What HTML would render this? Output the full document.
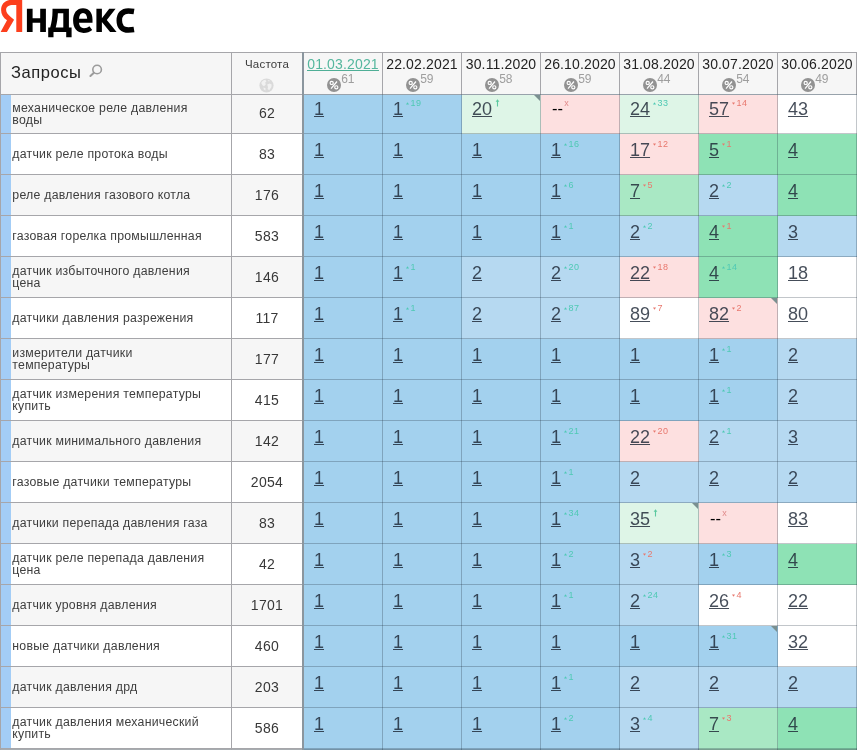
<!DOCTYPE html>
<html lang="ru"><head><meta charset="utf-8"><title>Яндекс</title>
<style>
*{margin:0;padding:0;box-sizing:border-box}
html,body{width:857px;height:750px;overflow:hidden;background:#fff}
#root{position:absolute;left:0;top:0;width:857px;height:750px;overflow:hidden;will-change:transform}
body{position:relative;font-family:"Liberation Sans",sans-serif;color:#333}
.a{position:absolute}
.hl{background:#a6a6aa;height:1px}
.vl{background:#a6a6aa;width:1px}
.hdr{background:#f6f6f6}
.q{left:1px;width:230px}
.q .s{position:absolute;left:0;top:0;bottom:0;width:10px;background:#a3cdf6}
.q .t{position:absolute;left:11.3px;right:0;top:50%;transform:translateY(-50%);margin-top:.3px;font-size:12.3px;letter-spacing:.25px;line-height:12px;color:#3e3e3e;white-space:nowrap}
.f{left:232px;width:70px;text-align:center;font-size:14px;letter-spacing:.3px;color:#383838}
.q .t.two{margin-top:-.5px}
.odd{background:#f6f6f6}
.even{background:#fff}
.d{width:79px}
.n{position:absolute;left:10px;top:0;font-size:18px;line-height:20px;color:rgba(28,38,52,.82);white-space:nowrap}
.n u{text-decoration:underline;text-decoration-thickness:1px;text-underline-offset:.5px}
.n b{font-weight:normal;color:#000;font-size:16.5px;margin-left:1px;position:relative;top:-.4px}
.sp{position:absolute;font-size:9px;line-height:9px;white-space:nowrap;letter-spacing:.4px}
.g{color:#4fc9b4}
.r{color:#e8786e}
.cr{position:absolute;right:1px;top:0;width:0;height:0;border-top:6px solid #7a9090;border-left:6px solid transparent}
.dt{position:absolute;left:0;right:0;top:3px;text-align:center;font-size:14px;line-height:16px;color:#222;white-space:nowrap;letter-spacing:.15px}
.dt.lk span{color:#55b79e;border-bottom:1px solid #4fae96;display:inline-block;height:15px;line-height:16px}
.bd{position:absolute;left:22.6px;top:24.6px;width:14px;height:14px;border-radius:50%;background:#929292}
.pc{position:absolute;left:37.2px;top:19.6px;font-size:12px;line-height:12px;color:#9e9e9e}
</style></head>
<body><div id="root">
<svg class="a" style="left:0;top:0" width="140" height="40" viewBox="0 0 140 40">
<path fill="#fc3f1d" d="M22.2 -0.3 L22.2 31.9 L16.3 31.9 L16.3 4.9 L13.2 4.9 C8.8 4.9 6.1 6.6 6.1 9.8 C6.1 12.4 7.6 14.3 10.2 16.4 L14.1 19.8 L6.9 31.9 L0.6 31.9 L7 20.2 C3.2 17.6 1.1 14.2 1.1 9.9 C1.1 3.6 5.6 -0.3 12.6 -0.3 Z"/>
<path fill="#000" d="M26.9 8.8 h5.7 v9.5 h7.6 v-9.5 h5.7 v23.3 h-5.7 v-9.3 h-7.6 v9.3 h-5.7 Z"/>
<path fill="#000" fill-rule="evenodd" d="M52.5 8.8 L68.9 8.8 L68.9 27.6 L71.6 27.6 L71.6 37.3 L66.2 37.3 L66.2 32.1 L53.5 32.1 L53.5 37.3 L48.2 37.3 L48.2 27.6 L50.2 27.6 C51.6 22.5 52.5 17 52.5 11 Z M57.9 13.3 L63.3 13.3 L63.3 27.6 L55.7 27.6 C56.9 23.5 57.7 18.5 57.9 13.3 Z"/>
<path fill="#000" fill-rule="evenodd" d="M92.5 22.8 L79 22.8 C79.2 26.3 81 28.2 84 28.2 C86.2 28.2 87.9 27.5 89.4 26.2 L92.2 30 C89.9 32 87 32.9 83.6 32.9 C77 32.9 73.1 28.4 73.1 20.6 C73.1 13 76.8 8.2 83 8.2 C89 8.2 92.5 12.6 92.5 19.4 Z M79 18.7 L87.2 18.7 C87 15.1 85.6 12.9 83 12.9 C80.6 12.9 79.3 15.1 79 18.7 Z"/>
<path fill="#000" d="M96.4 8.8 H101.9 V18.2 L109.2 8.8 H115.6 L106.8 20 L116.6 32.1 H110.1 L101.9 22 V32.1 H96.4 Z"/>
<path fill="none" stroke="#000" stroke-width="5.6" d="M134 11.4 C132.2 11.1 130.4 11 128.3 11 C122.5 11 119.3 14.4 119.3 20.5 C119.3 26.6 122.5 30 128.3 30 C130.4 30 132.2 29.9 134 29.6"/>
</svg>
<div class="a hl" style="left:0;top:52px;width:857px"></div>
<div class="a hdr" style="left:1px;top:53px;width:855px;height:41px"></div>
<div class="a" style="left:11px;top:61.5px;font-size:16.5px;letter-spacing:.55px;line-height:20px;color:#222">Запросы</div>
<svg class="a" style="left:88px;top:62px" width="16" height="16" viewBox="0 0 16 16"><circle cx="9.1" cy="7.5" r="4.3" fill="none" stroke="#9c9c9c" stroke-width="1.6"/><path d="M5.9 10.7 L2.4 14" stroke="#9c9c9c" stroke-width="2" stroke-linecap="round"/></svg>
<div class="a" style="left:232px;top:56.5px;width:70px;text-align:center;font-size:11.5px;letter-spacing:.2px;line-height:14px;color:#3c3c3c">Частота</div>
<svg class="a" style="left:259.4px;top:77.6px" width="15" height="15" viewBox="0 0 15 15"><circle cx="7.5" cy="7.5" r="7.1" fill="#dadada"/><path d="M2.2 5 C3 3 4.6 2 6.4 1.8 L7.4 3.4 L6.2 4.6 L6.8 6.4 L5 8.2 L3.4 7.2Z M8.2 6.6 L10.6 5.4 L12.6 6.4 L12.4 9 L10.2 12.2 L8.6 11 L9 9Z M8.6 2 L10.8 2.6 L10 3.8Z M4.4 9.6 L6.6 10.2 L6.4 12.6 L4.8 11.6Z" fill="#f1f1f1"/></svg>
<div class="a" style="left:304px;top:53px;width:78px;height:41px"><div class="dt lk"><span>01.03.2021</span></div><div class="bd"><svg width="14" height="14" viewBox="0 0 14 14"><circle cx="4.7" cy="4.9" r="1.6" fill="none" stroke="#fff" stroke-width="1.15"/><circle cx="9.3" cy="9.3" r="1.6" fill="none" stroke="#fff" stroke-width="1.15"/><path d="M10 3.5 L4 10.6" stroke="#fff" stroke-width="1.2"/></svg></div><div class="pc">61</div></div>
<div class="a" style="left:383px;top:53px;width:78px;height:41px"><div class="dt"><span>22.02.2021</span></div><div class="bd"><svg width="14" height="14" viewBox="0 0 14 14"><circle cx="4.7" cy="4.9" r="1.6" fill="none" stroke="#fff" stroke-width="1.15"/><circle cx="9.3" cy="9.3" r="1.6" fill="none" stroke="#fff" stroke-width="1.15"/><path d="M10 3.5 L4 10.6" stroke="#fff" stroke-width="1.2"/></svg></div><div class="pc">59</div></div>
<div class="a" style="left:462px;top:53px;width:78px;height:41px"><div class="dt"><span>30.11.2020</span></div><div class="bd"><svg width="14" height="14" viewBox="0 0 14 14"><circle cx="4.7" cy="4.9" r="1.6" fill="none" stroke="#fff" stroke-width="1.15"/><circle cx="9.3" cy="9.3" r="1.6" fill="none" stroke="#fff" stroke-width="1.15"/><path d="M10 3.5 L4 10.6" stroke="#fff" stroke-width="1.2"/></svg></div><div class="pc">58</div></div>
<div class="a" style="left:541px;top:53px;width:78px;height:41px"><div class="dt"><span>26.10.2020</span></div><div class="bd"><svg width="14" height="14" viewBox="0 0 14 14"><circle cx="4.7" cy="4.9" r="1.6" fill="none" stroke="#fff" stroke-width="1.15"/><circle cx="9.3" cy="9.3" r="1.6" fill="none" stroke="#fff" stroke-width="1.15"/><path d="M10 3.5 L4 10.6" stroke="#fff" stroke-width="1.2"/></svg></div><div class="pc">59</div></div>
<div class="a" style="left:620px;top:53px;width:78px;height:41px"><div class="dt"><span>31.08.2020</span></div><div class="bd"><svg width="14" height="14" viewBox="0 0 14 14"><circle cx="4.7" cy="4.9" r="1.6" fill="none" stroke="#fff" stroke-width="1.15"/><circle cx="9.3" cy="9.3" r="1.6" fill="none" stroke="#fff" stroke-width="1.15"/><path d="M10 3.5 L4 10.6" stroke="#fff" stroke-width="1.2"/></svg></div><div class="pc">44</div></div>
<div class="a" style="left:699px;top:53px;width:78px;height:41px"><div class="dt"><span>30.07.2020</span></div><div class="bd"><svg width="14" height="14" viewBox="0 0 14 14"><circle cx="4.7" cy="4.9" r="1.6" fill="none" stroke="#fff" stroke-width="1.15"/><circle cx="9.3" cy="9.3" r="1.6" fill="none" stroke="#fff" stroke-width="1.15"/><path d="M10 3.5 L4 10.6" stroke="#fff" stroke-width="1.2"/></svg></div><div class="pc">54</div></div>
<div class="a" style="left:778px;top:53px;width:78px;height:41px"><div class="dt"><span>30.06.2020</span></div><div class="bd"><svg width="14" height="14" viewBox="0 0 14 14"><circle cx="4.7" cy="4.9" r="1.6" fill="none" stroke="#fff" stroke-width="1.15"/><circle cx="9.3" cy="9.3" r="1.6" fill="none" stroke="#fff" stroke-width="1.15"/><path d="M10 3.5 L4 10.6" stroke="#fff" stroke-width="1.2"/></svg></div><div class="pc">49</div></div>
<div class="a q odd" style="top:95px;height:38px"><div class="s"></div><div class="t two">механическое реле давления<br>воды</div></div>
<div class="a f odd" style="top:95px;height:38px;line-height:36px">62</div>
<div class="a d" style="left:304px;top:95px;height:39px;background:#a3d1ee"><div class="n" style="top:3.7px"><u>1</u></div></div>
<div class="a d" style="left:383px;top:95px;height:39px;background:#a3d1ee"><div class="n" style="top:3.7px"><u>1</u></div><div class="sp g" style="left:21px;top:4.1px;padding-left:6.5px"><svg width="3" height="3" viewBox="0 0 3 3" style="position:absolute;left:2px;top:3px"><path d="M0 2.6 L1.5 0.2 L3 2.6Z" fill="currentColor"/></svg>19</div></div>
<div class="a d" style="left:462px;top:95px;height:39px;background:#def5e7"><div class="n" style="top:3.7px"><u>20</u></div><svg class="a" style="left:32.8px;top:4.1px" width="5" height="8" viewBox="0 0 5 8"><path d="M2.5 0.2 L4.4 2.8 L3.05 2.8 L3.05 7.6 L1.95 7.6 L1.95 2.8 L0.6 2.8Z" fill="#5cc9a0"/></svg><div class="cr"></div></div>
<div class="a d" style="left:541px;top:95px;height:39px;background:#fde0e0"><div class="n" style="top:3.7px"><b>--</b></div><div class="sp r" style="left:23.3px;top:4.1px;color:#e08a8a">x</div></div>
<div class="a d" style="left:620px;top:95px;height:39px;background:#def5e7"><div class="n" style="top:3.7px"><u>24</u></div><div class="sp g" style="left:31px;top:4.1px;padding-left:6.5px"><svg width="3" height="3" viewBox="0 0 3 3" style="position:absolute;left:2px;top:3px"><path d="M0 2.6 L1.5 0.2 L3 2.6Z" fill="currentColor"/></svg>33</div></div>
<div class="a d" style="left:699px;top:95px;height:39px;background:#fde0e0"><div class="n" style="top:3.7px"><u>57</u></div><div class="sp r" style="left:31px;top:4.1px;padding-left:6.5px"><svg width="3" height="3" viewBox="0 0 3 3" style="position:absolute;left:2px;top:3px"><path d="M0 0.4 L3 0.4 L1.5 2.8Z" fill="currentColor"/></svg>14</div></div>
<div class="a d" style="left:778px;top:95px;height:39px;background:#ffffff"><div class="n" style="top:3.7px"><u>43</u></div></div>
<div class="a q even" style="top:134px;height:40px"><div class="s"></div><div class="t">датчик реле протока воды</div></div>
<div class="a f even" style="top:134px;height:40px;line-height:40px">83</div>
<div class="a d" style="left:304px;top:134px;height:41px;background:#a3d1ee"><div class="n" style="top:5.5px"><u>1</u></div></div>
<div class="a d" style="left:383px;top:134px;height:41px;background:#a3d1ee"><div class="n" style="top:5.5px"><u>1</u></div></div>
<div class="a d" style="left:462px;top:134px;height:41px;background:#a3d1ee"><div class="n" style="top:5.5px"><u>1</u></div></div>
<div class="a d" style="left:541px;top:134px;height:41px;background:#a3d1ee"><div class="n" style="top:5.5px"><u>1</u></div><div class="sp g" style="left:21px;top:5.9px;padding-left:6.5px"><svg width="3" height="3" viewBox="0 0 3 3" style="position:absolute;left:2px;top:3px"><path d="M0 2.6 L1.5 0.2 L3 2.6Z" fill="currentColor"/></svg>16</div></div>
<div class="a d" style="left:620px;top:134px;height:41px;background:#fde0e0"><div class="n" style="top:5.5px"><u>17</u></div><div class="sp r" style="left:31px;top:5.9px;padding-left:6.5px"><svg width="3" height="3" viewBox="0 0 3 3" style="position:absolute;left:2px;top:3px"><path d="M0 0.4 L3 0.4 L1.5 2.8Z" fill="currentColor"/></svg>12</div></div>
<div class="a d" style="left:699px;top:134px;height:41px;background:#8ee2b5"><div class="n" style="top:5.5px"><u>5</u></div><div class="sp r" style="left:21px;top:5.9px;padding-left:6.5px"><svg width="3" height="3" viewBox="0 0 3 3" style="position:absolute;left:2px;top:3px"><path d="M0 0.4 L3 0.4 L1.5 2.8Z" fill="currentColor"/></svg>1</div></div>
<div class="a d" style="left:778px;top:134px;height:41px;background:#8ee2b5"><div class="n" style="top:5.5px"><u>4</u></div></div>
<div class="a q odd" style="top:175px;height:40px"><div class="s"></div><div class="t">реле давления газового котла</div></div>
<div class="a f odd" style="top:175px;height:40px;line-height:40px">176</div>
<div class="a d" style="left:304px;top:175px;height:41px;background:#a3d1ee"><div class="n" style="top:5.5px"><u>1</u></div></div>
<div class="a d" style="left:383px;top:175px;height:41px;background:#a3d1ee"><div class="n" style="top:5.5px"><u>1</u></div></div>
<div class="a d" style="left:462px;top:175px;height:41px;background:#a3d1ee"><div class="n" style="top:5.5px"><u>1</u></div></div>
<div class="a d" style="left:541px;top:175px;height:41px;background:#a3d1ee"><div class="n" style="top:5.5px"><u>1</u></div><div class="sp g" style="left:21px;top:5.9px;padding-left:6.5px"><svg width="3" height="3" viewBox="0 0 3 3" style="position:absolute;left:2px;top:3px"><path d="M0 2.6 L1.5 0.2 L3 2.6Z" fill="currentColor"/></svg>6</div></div>
<div class="a d" style="left:620px;top:175px;height:41px;background:#a9e8c4"><div class="n" style="top:5.5px"><u>7</u></div><div class="sp r" style="left:21px;top:5.9px;padding-left:6.5px"><svg width="3" height="3" viewBox="0 0 3 3" style="position:absolute;left:2px;top:3px"><path d="M0 0.4 L3 0.4 L1.5 2.8Z" fill="currentColor"/></svg>5</div></div>
<div class="a d" style="left:699px;top:175px;height:41px;background:#b6d9f1"><div class="n" style="top:5.5px"><u>2</u></div><div class="sp g" style="left:21px;top:5.9px;padding-left:6.5px"><svg width="3" height="3" viewBox="0 0 3 3" style="position:absolute;left:2px;top:3px"><path d="M0 2.6 L1.5 0.2 L3 2.6Z" fill="currentColor"/></svg>2</div></div>
<div class="a d" style="left:778px;top:175px;height:41px;background:#8ee2b5"><div class="n" style="top:5.5px"><u>4</u></div></div>
<div class="a q even" style="top:216px;height:40px"><div class="s"></div><div class="t">газовая горелка промышленная</div></div>
<div class="a f even" style="top:216px;height:40px;line-height:40px">583</div>
<div class="a d" style="left:304px;top:216px;height:41px;background:#a3d1ee"><div class="n" style="top:5.5px"><u>1</u></div></div>
<div class="a d" style="left:383px;top:216px;height:41px;background:#a3d1ee"><div class="n" style="top:5.5px"><u>1</u></div></div>
<div class="a d" style="left:462px;top:216px;height:41px;background:#a3d1ee"><div class="n" style="top:5.5px"><u>1</u></div></div>
<div class="a d" style="left:541px;top:216px;height:41px;background:#a3d1ee"><div class="n" style="top:5.5px"><u>1</u></div><div class="sp g" style="left:21px;top:5.9px;padding-left:6.5px"><svg width="3" height="3" viewBox="0 0 3 3" style="position:absolute;left:2px;top:3px"><path d="M0 2.6 L1.5 0.2 L3 2.6Z" fill="currentColor"/></svg>1</div></div>
<div class="a d" style="left:620px;top:216px;height:41px;background:#b6d9f1"><div class="n" style="top:5.5px"><u>2</u></div><div class="sp g" style="left:21px;top:5.9px;padding-left:6.5px"><svg width="3" height="3" viewBox="0 0 3 3" style="position:absolute;left:2px;top:3px"><path d="M0 2.6 L1.5 0.2 L3 2.6Z" fill="currentColor"/></svg>2</div></div>
<div class="a d" style="left:699px;top:216px;height:41px;background:#8ee2b5"><div class="n" style="top:5.5px"><u>4</u></div><div class="sp r" style="left:21px;top:5.9px;padding-left:6.5px"><svg width="3" height="3" viewBox="0 0 3 3" style="position:absolute;left:2px;top:3px"><path d="M0 0.4 L3 0.4 L1.5 2.8Z" fill="currentColor"/></svg>1</div></div>
<div class="a d" style="left:778px;top:216px;height:41px;background:#b6d9f1"><div class="n" style="top:5.5px"><u>3</u></div></div>
<div class="a q odd" style="top:257px;height:40px"><div class="s"></div><div class="t two">датчик избыточного давления<br>цена</div></div>
<div class="a f odd" style="top:257px;height:40px;line-height:40px">146</div>
<div class="a d" style="left:304px;top:257px;height:41px;background:#a3d1ee"><div class="n" style="top:5.5px"><u>1</u></div></div>
<div class="a d" style="left:383px;top:257px;height:41px;background:#a3d1ee"><div class="n" style="top:5.5px"><u>1</u></div><div class="sp g" style="left:21px;top:5.9px;padding-left:6.5px"><svg width="3" height="3" viewBox="0 0 3 3" style="position:absolute;left:2px;top:3px"><path d="M0 2.6 L1.5 0.2 L3 2.6Z" fill="currentColor"/></svg>1</div></div>
<div class="a d" style="left:462px;top:257px;height:41px;background:#b6d9f1"><div class="n" style="top:5.5px"><u>2</u></div></div>
<div class="a d" style="left:541px;top:257px;height:41px;background:#b6d9f1"><div class="n" style="top:5.5px"><u>2</u></div><div class="sp g" style="left:21px;top:5.9px;padding-left:6.5px"><svg width="3" height="3" viewBox="0 0 3 3" style="position:absolute;left:2px;top:3px"><path d="M0 2.6 L1.5 0.2 L3 2.6Z" fill="currentColor"/></svg>20</div></div>
<div class="a d" style="left:620px;top:257px;height:41px;background:#fde0e0"><div class="n" style="top:5.5px"><u>22</u></div><div class="sp r" style="left:31px;top:5.9px;padding-left:6.5px"><svg width="3" height="3" viewBox="0 0 3 3" style="position:absolute;left:2px;top:3px"><path d="M0 0.4 L3 0.4 L1.5 2.8Z" fill="currentColor"/></svg>18</div></div>
<div class="a d" style="left:699px;top:257px;height:41px;background:#8ee2b5"><div class="n" style="top:5.5px"><u>4</u></div><div class="sp g" style="left:21px;top:5.9px;padding-left:6.5px"><svg width="3" height="3" viewBox="0 0 3 3" style="position:absolute;left:2px;top:3px"><path d="M0 2.6 L1.5 0.2 L3 2.6Z" fill="currentColor"/></svg>14</div></div>
<div class="a d" style="left:778px;top:257px;height:41px;background:#ffffff"><div class="n" style="top:5.5px"><u>18</u></div></div>
<div class="a q even" style="top:298px;height:40px"><div class="s"></div><div class="t">датчики давления разрежения</div></div>
<div class="a f even" style="top:298px;height:40px;line-height:40px">117</div>
<div class="a d" style="left:304px;top:298px;height:41px;background:#a3d1ee"><div class="n" style="top:5.5px"><u>1</u></div></div>
<div class="a d" style="left:383px;top:298px;height:41px;background:#a3d1ee"><div class="n" style="top:5.5px"><u>1</u></div><div class="sp g" style="left:21px;top:5.9px;padding-left:6.5px"><svg width="3" height="3" viewBox="0 0 3 3" style="position:absolute;left:2px;top:3px"><path d="M0 2.6 L1.5 0.2 L3 2.6Z" fill="currentColor"/></svg>1</div></div>
<div class="a d" style="left:462px;top:298px;height:41px;background:#b6d9f1"><div class="n" style="top:5.5px"><u>2</u></div></div>
<div class="a d" style="left:541px;top:298px;height:41px;background:#b6d9f1"><div class="n" style="top:5.5px"><u>2</u></div><div class="sp g" style="left:21px;top:5.9px;padding-left:6.5px"><svg width="3" height="3" viewBox="0 0 3 3" style="position:absolute;left:2px;top:3px"><path d="M0 2.6 L1.5 0.2 L3 2.6Z" fill="currentColor"/></svg>87</div></div>
<div class="a d" style="left:620px;top:298px;height:41px;background:#ffffff"><div class="n" style="top:5.5px"><u>89</u></div><div class="sp r" style="left:31px;top:5.9px;padding-left:6.5px"><svg width="3" height="3" viewBox="0 0 3 3" style="position:absolute;left:2px;top:3px"><path d="M0 0.4 L3 0.4 L1.5 2.8Z" fill="currentColor"/></svg>7</div></div>
<div class="a d" style="left:699px;top:298px;height:41px;background:#fde0e0"><div class="n" style="top:5.5px"><u>82</u></div><div class="sp r" style="left:31px;top:5.9px;padding-left:6.5px"><svg width="3" height="3" viewBox="0 0 3 3" style="position:absolute;left:2px;top:3px"><path d="M0 0.4 L3 0.4 L1.5 2.8Z" fill="currentColor"/></svg>2</div><div class="cr"></div></div>
<div class="a d" style="left:778px;top:298px;height:41px;background:#ffffff"><div class="n" style="top:5.5px"><u>80</u></div></div>
<div class="a q odd" style="top:339px;height:40px"><div class="s"></div><div class="t two">измерители датчики<br>температуры</div></div>
<div class="a f odd" style="top:339px;height:40px;line-height:40px">177</div>
<div class="a d" style="left:304px;top:339px;height:41px;background:#a3d1ee"><div class="n" style="top:5.5px"><u>1</u></div></div>
<div class="a d" style="left:383px;top:339px;height:41px;background:#a3d1ee"><div class="n" style="top:5.5px"><u>1</u></div></div>
<div class="a d" style="left:462px;top:339px;height:41px;background:#a3d1ee"><div class="n" style="top:5.5px"><u>1</u></div></div>
<div class="a d" style="left:541px;top:339px;height:41px;background:#a3d1ee"><div class="n" style="top:5.5px"><u>1</u></div></div>
<div class="a d" style="left:620px;top:339px;height:41px;background:#a3d1ee"><div class="n" style="top:5.5px"><u>1</u></div></div>
<div class="a d" style="left:699px;top:339px;height:41px;background:#a3d1ee"><div class="n" style="top:5.5px"><u>1</u></div><div class="sp g" style="left:21px;top:5.9px;padding-left:6.5px"><svg width="3" height="3" viewBox="0 0 3 3" style="position:absolute;left:2px;top:3px"><path d="M0 2.6 L1.5 0.2 L3 2.6Z" fill="currentColor"/></svg>1</div></div>
<div class="a d" style="left:778px;top:339px;height:41px;background:#b6d9f1"><div class="n" style="top:5.5px"><u>2</u></div></div>
<div class="a q even" style="top:380px;height:40px"><div class="s"></div><div class="t two">датчик измерения температуры<br>купить</div></div>
<div class="a f even" style="top:380px;height:40px;line-height:40px">415</div>
<div class="a d" style="left:304px;top:380px;height:41px;background:#a3d1ee"><div class="n" style="top:5.5px"><u>1</u></div></div>
<div class="a d" style="left:383px;top:380px;height:41px;background:#a3d1ee"><div class="n" style="top:5.5px"><u>1</u></div></div>
<div class="a d" style="left:462px;top:380px;height:41px;background:#a3d1ee"><div class="n" style="top:5.5px"><u>1</u></div></div>
<div class="a d" style="left:541px;top:380px;height:41px;background:#a3d1ee"><div class="n" style="top:5.5px"><u>1</u></div></div>
<div class="a d" style="left:620px;top:380px;height:41px;background:#a3d1ee"><div class="n" style="top:5.5px"><u>1</u></div></div>
<div class="a d" style="left:699px;top:380px;height:41px;background:#a3d1ee"><div class="n" style="top:5.5px"><u>1</u></div><div class="sp g" style="left:21px;top:5.9px;padding-left:6.5px"><svg width="3" height="3" viewBox="0 0 3 3" style="position:absolute;left:2px;top:3px"><path d="M0 2.6 L1.5 0.2 L3 2.6Z" fill="currentColor"/></svg>1</div></div>
<div class="a d" style="left:778px;top:380px;height:41px;background:#b6d9f1"><div class="n" style="top:5.5px"><u>2</u></div></div>
<div class="a q odd" style="top:421px;height:40px"><div class="s"></div><div class="t">датчик минимального давления</div></div>
<div class="a f odd" style="top:421px;height:40px;line-height:40px">142</div>
<div class="a d" style="left:304px;top:421px;height:41px;background:#a3d1ee"><div class="n" style="top:5.5px"><u>1</u></div></div>
<div class="a d" style="left:383px;top:421px;height:41px;background:#a3d1ee"><div class="n" style="top:5.5px"><u>1</u></div></div>
<div class="a d" style="left:462px;top:421px;height:41px;background:#a3d1ee"><div class="n" style="top:5.5px"><u>1</u></div></div>
<div class="a d" style="left:541px;top:421px;height:41px;background:#a3d1ee"><div class="n" style="top:5.5px"><u>1</u></div><div class="sp g" style="left:21px;top:5.9px;padding-left:6.5px"><svg width="3" height="3" viewBox="0 0 3 3" style="position:absolute;left:2px;top:3px"><path d="M0 2.6 L1.5 0.2 L3 2.6Z" fill="currentColor"/></svg>21</div></div>
<div class="a d" style="left:620px;top:421px;height:41px;background:#fde0e0"><div class="n" style="top:5.5px"><u>22</u></div><div class="sp r" style="left:31px;top:5.9px;padding-left:6.5px"><svg width="3" height="3" viewBox="0 0 3 3" style="position:absolute;left:2px;top:3px"><path d="M0 0.4 L3 0.4 L1.5 2.8Z" fill="currentColor"/></svg>20</div></div>
<div class="a d" style="left:699px;top:421px;height:41px;background:#b6d9f1"><div class="n" style="top:5.5px"><u>2</u></div><div class="sp g" style="left:21px;top:5.9px;padding-left:6.5px"><svg width="3" height="3" viewBox="0 0 3 3" style="position:absolute;left:2px;top:3px"><path d="M0 2.6 L1.5 0.2 L3 2.6Z" fill="currentColor"/></svg>1</div></div>
<div class="a d" style="left:778px;top:421px;height:41px;background:#b6d9f1"><div class="n" style="top:5.5px"><u>3</u></div></div>
<div class="a q even" style="top:462px;height:40px"><div class="s"></div><div class="t">газовые датчики температуры</div></div>
<div class="a f even" style="top:462px;height:40px;line-height:40px">2054</div>
<div class="a d" style="left:304px;top:462px;height:41px;background:#a3d1ee"><div class="n" style="top:5.5px"><u>1</u></div></div>
<div class="a d" style="left:383px;top:462px;height:41px;background:#a3d1ee"><div class="n" style="top:5.5px"><u>1</u></div></div>
<div class="a d" style="left:462px;top:462px;height:41px;background:#a3d1ee"><div class="n" style="top:5.5px"><u>1</u></div></div>
<div class="a d" style="left:541px;top:462px;height:41px;background:#a3d1ee"><div class="n" style="top:5.5px"><u>1</u></div><div class="sp g" style="left:21px;top:5.9px;padding-left:6.5px"><svg width="3" height="3" viewBox="0 0 3 3" style="position:absolute;left:2px;top:3px"><path d="M0 2.6 L1.5 0.2 L3 2.6Z" fill="currentColor"/></svg>1</div></div>
<div class="a d" style="left:620px;top:462px;height:41px;background:#b6d9f1"><div class="n" style="top:5.5px"><u>2</u></div></div>
<div class="a d" style="left:699px;top:462px;height:41px;background:#b6d9f1"><div class="n" style="top:5.5px"><u>2</u></div></div>
<div class="a d" style="left:778px;top:462px;height:41px;background:#b6d9f1"><div class="n" style="top:5.5px"><u>2</u></div></div>
<div class="a q odd" style="top:503px;height:40px"><div class="s"></div><div class="t">датчики перепада давления газа</div></div>
<div class="a f odd" style="top:503px;height:40px;line-height:40px">83</div>
<div class="a d" style="left:304px;top:503px;height:41px;background:#a3d1ee"><div class="n" style="top:5.5px"><u>1</u></div></div>
<div class="a d" style="left:383px;top:503px;height:41px;background:#a3d1ee"><div class="n" style="top:5.5px"><u>1</u></div></div>
<div class="a d" style="left:462px;top:503px;height:41px;background:#a3d1ee"><div class="n" style="top:5.5px"><u>1</u></div></div>
<div class="a d" style="left:541px;top:503px;height:41px;background:#a3d1ee"><div class="n" style="top:5.5px"><u>1</u></div><div class="sp g" style="left:21px;top:5.9px;padding-left:6.5px"><svg width="3" height="3" viewBox="0 0 3 3" style="position:absolute;left:2px;top:3px"><path d="M0 2.6 L1.5 0.2 L3 2.6Z" fill="currentColor"/></svg>34</div></div>
<div class="a d" style="left:620px;top:503px;height:41px;background:#def5e7"><div class="n" style="top:5.5px"><u>35</u></div><svg class="a" style="left:32.8px;top:5.9px" width="5" height="8" viewBox="0 0 5 8"><path d="M2.5 0.2 L4.4 2.8 L3.05 2.8 L3.05 7.6 L1.95 7.6 L1.95 2.8 L0.6 2.8Z" fill="#5cc9a0"/></svg><div class="cr"></div></div>
<div class="a d" style="left:699px;top:503px;height:41px;background:#fde0e0"><div class="n" style="top:5.5px"><b>--</b></div><div class="sp r" style="left:23.3px;top:5.9px;color:#e08a8a">x</div></div>
<div class="a d" style="left:778px;top:503px;height:41px;background:#ffffff"><div class="n" style="top:5.5px"><u>83</u></div></div>
<div class="a q even" style="top:544px;height:40px"><div class="s"></div><div class="t two">датчик реле перепада давления<br>цена</div></div>
<div class="a f even" style="top:544px;height:40px;line-height:40px">42</div>
<div class="a d" style="left:304px;top:544px;height:41px;background:#a3d1ee"><div class="n" style="top:5.5px"><u>1</u></div></div>
<div class="a d" style="left:383px;top:544px;height:41px;background:#a3d1ee"><div class="n" style="top:5.5px"><u>1</u></div></div>
<div class="a d" style="left:462px;top:544px;height:41px;background:#a3d1ee"><div class="n" style="top:5.5px"><u>1</u></div></div>
<div class="a d" style="left:541px;top:544px;height:41px;background:#a3d1ee"><div class="n" style="top:5.5px"><u>1</u></div><div class="sp g" style="left:21px;top:5.9px;padding-left:6.5px"><svg width="3" height="3" viewBox="0 0 3 3" style="position:absolute;left:2px;top:3px"><path d="M0 2.6 L1.5 0.2 L3 2.6Z" fill="currentColor"/></svg>2</div></div>
<div class="a d" style="left:620px;top:544px;height:41px;background:#b6d9f1"><div class="n" style="top:5.5px"><u>3</u></div><div class="sp r" style="left:21px;top:5.9px;padding-left:6.5px"><svg width="3" height="3" viewBox="0 0 3 3" style="position:absolute;left:2px;top:3px"><path d="M0 0.4 L3 0.4 L1.5 2.8Z" fill="currentColor"/></svg>2</div></div>
<div class="a d" style="left:699px;top:544px;height:41px;background:#a3d1ee"><div class="n" style="top:5.5px"><u>1</u></div><div class="sp g" style="left:21px;top:5.9px;padding-left:6.5px"><svg width="3" height="3" viewBox="0 0 3 3" style="position:absolute;left:2px;top:3px"><path d="M0 2.6 L1.5 0.2 L3 2.6Z" fill="currentColor"/></svg>3</div></div>
<div class="a d" style="left:778px;top:544px;height:41px;background:#8ee2b5"><div class="n" style="top:5.5px"><u>4</u></div></div>
<div class="a q odd" style="top:585px;height:40px"><div class="s"></div><div class="t">датчик уровня давления</div></div>
<div class="a f odd" style="top:585px;height:40px;line-height:40px">1701</div>
<div class="a d" style="left:304px;top:585px;height:41px;background:#a3d1ee"><div class="n" style="top:5.5px"><u>1</u></div></div>
<div class="a d" style="left:383px;top:585px;height:41px;background:#a3d1ee"><div class="n" style="top:5.5px"><u>1</u></div></div>
<div class="a d" style="left:462px;top:585px;height:41px;background:#a3d1ee"><div class="n" style="top:5.5px"><u>1</u></div></div>
<div class="a d" style="left:541px;top:585px;height:41px;background:#a3d1ee"><div class="n" style="top:5.5px"><u>1</u></div><div class="sp g" style="left:21px;top:5.9px;padding-left:6.5px"><svg width="3" height="3" viewBox="0 0 3 3" style="position:absolute;left:2px;top:3px"><path d="M0 2.6 L1.5 0.2 L3 2.6Z" fill="currentColor"/></svg>1</div></div>
<div class="a d" style="left:620px;top:585px;height:41px;background:#b6d9f1"><div class="n" style="top:5.5px"><u>2</u></div><div class="sp g" style="left:21px;top:5.9px;padding-left:6.5px"><svg width="3" height="3" viewBox="0 0 3 3" style="position:absolute;left:2px;top:3px"><path d="M0 2.6 L1.5 0.2 L3 2.6Z" fill="currentColor"/></svg>24</div></div>
<div class="a d" style="left:699px;top:585px;height:41px;background:#ffffff"><div class="n" style="top:5.5px"><u>26</u></div><div class="sp r" style="left:31px;top:5.9px;padding-left:6.5px"><svg width="3" height="3" viewBox="0 0 3 3" style="position:absolute;left:2px;top:3px"><path d="M0 0.4 L3 0.4 L1.5 2.8Z" fill="currentColor"/></svg>4</div></div>
<div class="a d" style="left:778px;top:585px;height:41px;background:#ffffff"><div class="n" style="top:5.5px"><u>22</u></div></div>
<div class="a q even" style="top:626px;height:40px"><div class="s"></div><div class="t">новые датчики давления</div></div>
<div class="a f even" style="top:626px;height:40px;line-height:40px">460</div>
<div class="a d" style="left:304px;top:626px;height:41px;background:#a3d1ee"><div class="n" style="top:5.5px"><u>1</u></div></div>
<div class="a d" style="left:383px;top:626px;height:41px;background:#a3d1ee"><div class="n" style="top:5.5px"><u>1</u></div></div>
<div class="a d" style="left:462px;top:626px;height:41px;background:#a3d1ee"><div class="n" style="top:5.5px"><u>1</u></div></div>
<div class="a d" style="left:541px;top:626px;height:41px;background:#a3d1ee"><div class="n" style="top:5.5px"><u>1</u></div></div>
<div class="a d" style="left:620px;top:626px;height:41px;background:#a3d1ee"><div class="n" style="top:5.5px"><u>1</u></div></div>
<div class="a d" style="left:699px;top:626px;height:41px;background:#a3d1ee"><div class="n" style="top:5.5px"><u>1</u></div><div class="sp g" style="left:21px;top:5.9px;padding-left:6.5px"><svg width="3" height="3" viewBox="0 0 3 3" style="position:absolute;left:2px;top:3px"><path d="M0 2.6 L1.5 0.2 L3 2.6Z" fill="currentColor"/></svg>31</div><div class="cr"></div></div>
<div class="a d" style="left:778px;top:626px;height:41px;background:#ffffff"><div class="n" style="top:5.5px"><u>32</u></div></div>
<div class="a q odd" style="top:667px;height:40px"><div class="s"></div><div class="t">датчик давления дрд</div></div>
<div class="a f odd" style="top:667px;height:40px;line-height:40px">203</div>
<div class="a d" style="left:304px;top:667px;height:41px;background:#a3d1ee"><div class="n" style="top:5.5px"><u>1</u></div></div>
<div class="a d" style="left:383px;top:667px;height:41px;background:#a3d1ee"><div class="n" style="top:5.5px"><u>1</u></div></div>
<div class="a d" style="left:462px;top:667px;height:41px;background:#a3d1ee"><div class="n" style="top:5.5px"><u>1</u></div></div>
<div class="a d" style="left:541px;top:667px;height:41px;background:#a3d1ee"><div class="n" style="top:5.5px"><u>1</u></div><div class="sp g" style="left:21px;top:5.9px;padding-left:6.5px"><svg width="3" height="3" viewBox="0 0 3 3" style="position:absolute;left:2px;top:3px"><path d="M0 2.6 L1.5 0.2 L3 2.6Z" fill="currentColor"/></svg>1</div></div>
<div class="a d" style="left:620px;top:667px;height:41px;background:#b6d9f1"><div class="n" style="top:5.5px"><u>2</u></div></div>
<div class="a d" style="left:699px;top:667px;height:41px;background:#b6d9f1"><div class="n" style="top:5.5px"><u>2</u></div></div>
<div class="a d" style="left:778px;top:667px;height:41px;background:#b6d9f1"><div class="n" style="top:5.5px"><u>2</u></div></div>
<div class="a q even" style="top:708px;height:41px"><div class="s"></div><div class="t two">датчик давления механический<br>купить</div></div>
<div class="a f even" style="top:708px;height:41px;line-height:41px">586</div>
<div class="a d" style="left:304px;top:708px;height:42px;background:#a3d1ee"><div class="n" style="top:5.5px"><u>1</u></div></div>
<div class="a d" style="left:383px;top:708px;height:42px;background:#a3d1ee"><div class="n" style="top:5.5px"><u>1</u></div></div>
<div class="a d" style="left:462px;top:708px;height:42px;background:#a3d1ee"><div class="n" style="top:5.5px"><u>1</u></div></div>
<div class="a d" style="left:541px;top:708px;height:42px;background:#a3d1ee"><div class="n" style="top:5.5px"><u>1</u></div><div class="sp g" style="left:21px;top:5.9px;padding-left:6.5px"><svg width="3" height="3" viewBox="0 0 3 3" style="position:absolute;left:2px;top:3px"><path d="M0 2.6 L1.5 0.2 L3 2.6Z" fill="currentColor"/></svg>2</div></div>
<div class="a d" style="left:620px;top:708px;height:42px;background:#b6d9f1"><div class="n" style="top:5.5px"><u>3</u></div><div class="sp g" style="left:21px;top:5.9px;padding-left:6.5px"><svg width="3" height="3" viewBox="0 0 3 3" style="position:absolute;left:2px;top:3px"><path d="M0 2.6 L1.5 0.2 L3 2.6Z" fill="currentColor"/></svg>4</div></div>
<div class="a d" style="left:699px;top:708px;height:42px;background:#a9e8c4"><div class="n" style="top:5.5px"><u>7</u></div><div class="sp r" style="left:21px;top:5.9px;padding-left:6.5px"><svg width="3" height="3" viewBox="0 0 3 3" style="position:absolute;left:2px;top:3px"><path d="M0 0.4 L3 0.4 L1.5 2.8Z" fill="currentColor"/></svg>3</div></div>
<div class="a d" style="left:778px;top:708px;height:42px;background:#8ee2b5"><div class="n" style="top:5.5px"><u>4</u></div></div>
<div class="a hl" style="left:0;top:94px;width:304px"></div>
<div class="a" style="left:304px;top:94px;width:553px;height:1px;background:#98a2ab"></div>
<div class="a hl" style="left:0;top:133px;width:304px"></div>
<div class="a" style="left:304px;top:133px;width:553px;height:1px;background:rgba(30,45,60,.27)"></div>
<div class="a hl" style="left:0;top:174px;width:304px"></div>
<div class="a" style="left:304px;top:174px;width:553px;height:1px;background:rgba(30,45,60,.27)"></div>
<div class="a hl" style="left:0;top:215px;width:304px"></div>
<div class="a" style="left:304px;top:215px;width:553px;height:1px;background:rgba(30,45,60,.27)"></div>
<div class="a hl" style="left:0;top:256px;width:304px"></div>
<div class="a" style="left:304px;top:256px;width:553px;height:1px;background:rgba(30,45,60,.27)"></div>
<div class="a hl" style="left:0;top:297px;width:304px"></div>
<div class="a" style="left:304px;top:297px;width:553px;height:1px;background:rgba(30,45,60,.27)"></div>
<div class="a hl" style="left:0;top:338px;width:304px"></div>
<div class="a" style="left:304px;top:338px;width:553px;height:1px;background:rgba(30,45,60,.27)"></div>
<div class="a hl" style="left:0;top:379px;width:304px"></div>
<div class="a" style="left:304px;top:379px;width:553px;height:1px;background:rgba(30,45,60,.27)"></div>
<div class="a hl" style="left:0;top:420px;width:304px"></div>
<div class="a" style="left:304px;top:420px;width:553px;height:1px;background:rgba(30,45,60,.27)"></div>
<div class="a hl" style="left:0;top:461px;width:304px"></div>
<div class="a" style="left:304px;top:461px;width:553px;height:1px;background:rgba(30,45,60,.27)"></div>
<div class="a hl" style="left:0;top:502px;width:304px"></div>
<div class="a" style="left:304px;top:502px;width:553px;height:1px;background:rgba(30,45,60,.27)"></div>
<div class="a hl" style="left:0;top:543px;width:304px"></div>
<div class="a" style="left:304px;top:543px;width:553px;height:1px;background:rgba(30,45,60,.27)"></div>
<div class="a hl" style="left:0;top:584px;width:304px"></div>
<div class="a" style="left:304px;top:584px;width:553px;height:1px;background:rgba(30,45,60,.27)"></div>
<div class="a hl" style="left:0;top:625px;width:304px"></div>
<div class="a" style="left:304px;top:625px;width:553px;height:1px;background:rgba(30,45,60,.27)"></div>
<div class="a hl" style="left:0;top:666px;width:304px"></div>
<div class="a" style="left:304px;top:666px;width:553px;height:1px;background:rgba(30,45,60,.27)"></div>
<div class="a hl" style="left:0;top:707px;width:304px"></div>
<div class="a" style="left:304px;top:707px;width:553px;height:1px;background:rgba(30,45,60,.27)"></div>
<div class="a hl" style="left:0;top:748px;width:304px"></div>
<div class="a" style="left:304px;top:748px;width:553px;height:1px;background:rgba(30,45,60,.27)"></div>
<div class="a" style="left:0;top:749px;width:857px;height:1px;background:rgba(60,70,80,.45)"></div>
<div class="a vl" style="left:0;top:52px;height:698px"></div>
<div class="a vl" style="left:231px;top:52px;height:698px"></div>
<div class="a" style="left:302px;top:52px;width:2px;height:698px;background:#8b969e"></div>
<div class="a" style="left:382px;top:53px;width:1px;height:41px;background:#a6a6aa"></div>
<div class="a" style="left:382px;top:94px;width:1px;height:656px;background:rgba(30,45,60,.27)"></div>
<div class="a" style="left:461px;top:53px;width:1px;height:41px;background:#a6a6aa"></div>
<div class="a" style="left:461px;top:94px;width:1px;height:656px;background:rgba(30,45,60,.27)"></div>
<div class="a" style="left:540px;top:53px;width:1px;height:41px;background:#a6a6aa"></div>
<div class="a" style="left:540px;top:94px;width:1px;height:656px;background:rgba(30,45,60,.27)"></div>
<div class="a" style="left:619px;top:53px;width:1px;height:41px;background:#a6a6aa"></div>
<div class="a" style="left:619px;top:94px;width:1px;height:656px;background:rgba(30,45,60,.27)"></div>
<div class="a" style="left:698px;top:53px;width:1px;height:41px;background:#a6a6aa"></div>
<div class="a" style="left:698px;top:94px;width:1px;height:656px;background:rgba(30,45,60,.27)"></div>
<div class="a" style="left:777px;top:53px;width:1px;height:41px;background:#a6a6aa"></div>
<div class="a" style="left:777px;top:94px;width:1px;height:656px;background:rgba(30,45,60,.27)"></div>
<div class="a" style="left:856px;top:53px;width:1px;height:41px;background:#a6a6aa"></div>
<div class="a" style="left:856px;top:94px;width:1px;height:656px;background:rgba(30,45,60,.27)"></div>
</div></body></html>
